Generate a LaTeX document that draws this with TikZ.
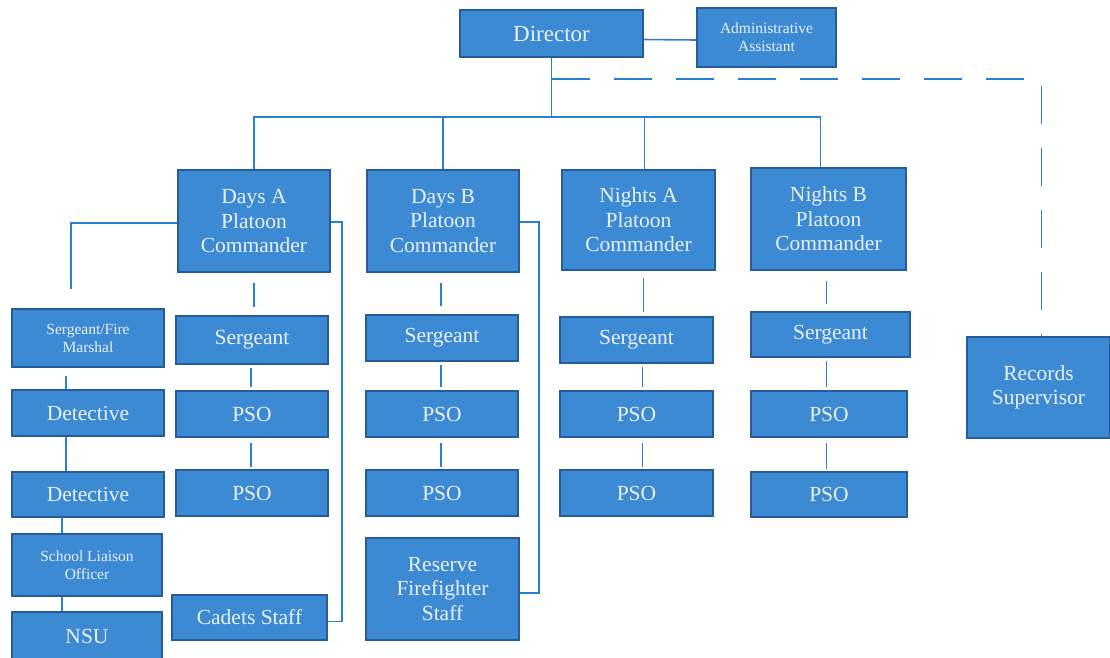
\documentclass[tikz,border=0pt]{standalone}
\usepackage{fontspec}
\setmainfont{Liberation Serif}
\usetikzlibrary{calc}
\definecolor{boxfill}{RGB}{60,137,212}
\definecolor{boxdraw}{RGB}{38,92,152}
\definecolor{linecol}{RGB}{40,128,212}
\definecolor{txt}{RGB}{234,241,250}
\begin{document}
\begin{tikzpicture}[x=1pt,y=-1pt,
  box/.style={draw=boxdraw, line width=1.6pt, fill=boxfill, text=txt, align=center, inner sep=0pt,
              font=\fontsize{21.5}{24.5}\selectfont},
  small/.style={font=\fontsize{15.5}{18}\selectfont},
  conn/.style={draw=linecol, line width=1.6pt},
  dashconn/.style={conn, dash pattern=on 38pt off 24pt}
]
\useasboundingbox (0,0) rectangle (1110,657);

% top
\node[box, minimum width=183pt, minimum height=47pt, font=\fontsize{23}{26}\selectfont] (dir) at (551.5,33.5) {Director};
\node[box, small, minimum width=139pt, minimum height=59pt] (admin) at (766.5,37.5) {Administrative\\Assistant};

% commanders
\node[box, minimum width=152pt, minimum height=102pt] (daysA) at (254,221) {Days A\\Platoon\\Commander};
\node[box, minimum width=152pt, minimum height=102pt] (daysB) at (443,221) {Days B\\Platoon\\Commander};
\node[box, minimum width=153pt, minimum height=100pt] (nightsA) at (638.5,220) {Nights A\\Platoon\\Commander};
\node[box, minimum width=155pt, minimum height=102pt] (nightsB) at (828.5,219) {Nights B\\Platoon\\Commander};

% sergeants
\node[box, small, minimum width=152pt, minimum height=58pt] (sfm) at (88,338) {Sergeant/Fire\\Marshal};
\node[box, minimum width=152pt, minimum height=48pt] (sgtA) at (252,340) {Sergeant};
\node[box, minimum width=152pt, minimum height=46pt] (sgtB) at (442,338) {Sergeant};
\node[box, minimum width=153pt, minimum height=46pt] (sgtNA) at (636.5,340) {Sergeant};
\node[box, minimum width=159pt, minimum height=45pt] (sgtNB) at (830.5,334.5) {Sergeant};
\node[box, minimum width=143pt, minimum height=101pt] (rec) at (1038.5,387.5) {Records\\Supervisor};

% row 3
\node[box, minimum width=152pt, minimum height=46pt] (det1) at (88,413) {Detective};
\node[box, minimum width=152pt, minimum height=46pt] (psoA1) at (252,414) {PSO};
\node[box, minimum width=152pt, minimum height=46pt] (psoB1) at (442,414) {PSO};
\node[box, minimum width=153pt, minimum height=46pt] (psoNA1) at (636.5,414) {PSO};
\node[box, minimum width=156pt, minimum height=46pt] (psoNB1) at (829,414) {PSO};

% row 4
\node[box, minimum width=152pt, minimum height=45pt] (det2) at (88,494.5) {Detective};
\node[box, minimum width=152pt, minimum height=46pt] (psoA2) at (252,493) {PSO};
\node[box, minimum width=152pt, minimum height=46pt] (psoB2) at (442,493) {PSO};
\node[box, minimum width=153pt, minimum height=46pt] (psoNA2) at (636.5,493) {PSO};
\node[box, minimum width=156pt, minimum height=45pt] (psoNB2) at (829,494.5) {PSO};

% bottom rows
\node[box, small, minimum width=150pt, minimum height=62pt] (slo) at (87,565) {School Liaison\\Officer};
\node[box, minimum width=150pt, minimum height=48pt] (nsu) at (87,636) {NSU};
\node[box, minimum width=155pt, minimum height=45pt] (cadets) at (249.5,617.5) {Cadets Staff};
\node[box, minimum width=153pt, minimum height=102pt] (reserve) at (442.5,589) {Reserve\\Firefighter\\Staff};

% connectors: top
\draw[conn] ($(dir.east)+(0,6)$) -- ($(admin.west)+(0,2.5)$);
\coordinate (bus) at (552,117);
\coordinate (dj) at (552,79);
\draw[conn] (dir.south) -- (dir.south |- bus);
\draw[conn] (daysA.north) -- (daysA.north |- bus) -- ([xshift=-8pt]nightsB.north |- bus) -- ([xshift=-8pt]nightsB.north);
\draw[conn] (daysB.north) -- (daysB.north |- bus);
\draw[conn] ([xshift=6pt]nightsA.north) -- ([xshift=6pt]nightsA.north |- bus);
\draw[dashconn] (dj) -- ([xshift=3pt]rec.north |- dj) -- ([xshift=3pt]rec.north);

% commander -> sergeant
\draw[conn, shorten <=10pt, shorten >=8pt] (daysA.south) -- (sgtA.north -| daysA.south);
\draw[conn, shorten <=10pt, shorten >=8pt] ([xshift=-2pt]daysB.south) -- ([xshift=-2pt]daysB.south |- sgtB.north);
\draw[conn, shorten <=7pt, shorten >=4pt] ([xshift=5pt]nightsA.south) -- ([xshift=5pt]nightsA.south |- sgtNA.north);
\draw[conn, shorten <=10pt, shorten >=7pt] ([xshift=-2pt]nightsB.south) -- ([xshift=-2pt]nightsB.south |- sgtNB.north);

% sergeant -> PSO -> PSO
\foreach \a/\b/\c/\dx in {sgtA/psoA1/psoA2/-1, sgtB/psoB1/psoB2/-1, sgtNA/psoNA1/psoNA2/6, sgtNB/psoNB1/psoNB2/-4}{
  \draw[conn, shorten <=3pt, shorten >=3pt] ([xshift=\dx pt]\a.south) -- ([xshift=\dx pt]\a.south |- \b.north);
  \draw[conn, shorten <=5pt, shorten >=2pt] ([xshift=\dx pt]\a.south |- \b.south) -- ([xshift=\dx pt]\a.south |- \c.north);
}

% left column
\draw[conn, shorten >=19pt] ([yshift=-2pt]daysA.west) -| ([xshift=-17pt]sfm.north);
\draw[conn, shorten <=8pt] ([xshift=-22pt]sfm.south) -- ([xshift=-22pt]det1.north);
\draw[conn] ([xshift=-22pt]det1.south) -- ([xshift=-22pt]det2.north);
\draw[conn] ([xshift=-25pt]slo.north |- det2.south) -- ([xshift=-25pt]slo.north);
\draw[conn] ([xshift=-25pt]slo.south) -- ([xshift=-25pt]nsu.north);

% side lines to cadets and reserve
\draw[conn] ([yshift=-1pt]daysA.east) -- ++(11,0) |- ([yshift=-4pt]cadets.east);
\draw[conn] ([yshift=-1pt]daysB.east) -- ++(19,0) |- ([yshift=-4pt]reserve.east);
\end{tikzpicture}
\end{document}
